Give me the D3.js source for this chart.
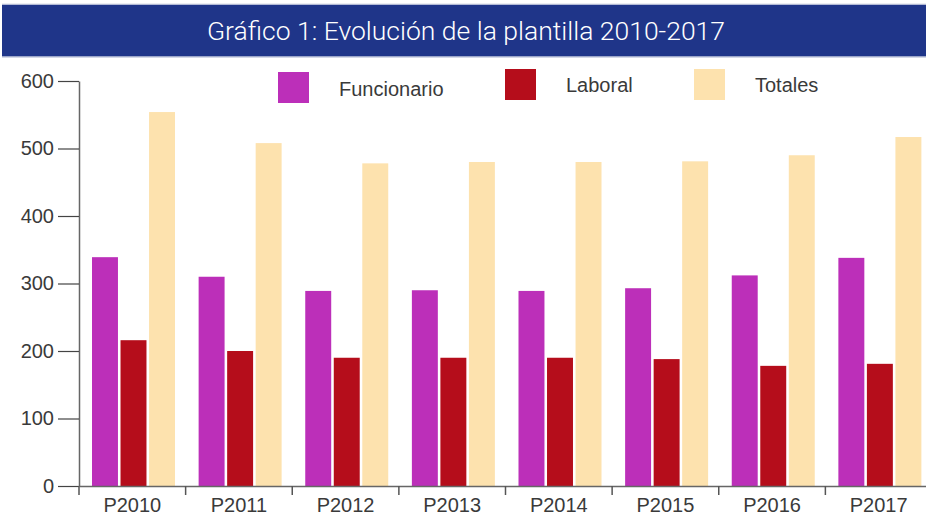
<!DOCTYPE html>
<html>
<head>
<meta charset="utf-8">
<script src="https://cdn.jsdelivr.net/npm/d3@7"></script>
<style>
body { margin: 0; background: #fff; }
svg text { font-family: "Liberation Sans", Arial, sans-serif; }
</style>
</head>
<body>
<svg id="chart" width="926" height="516"></svg>
<script>
var periods = ['P2010', 'P2011', 'P2012', 'P2013', 'P2014', 'P2015', 'P2016', 'P2017'];
var series = ['Funcionario', 'Laboral', 'Totales'];
var funcionario = [339, 310, 289, 290, 289, 293, 312, 338];
var laboral = [216, 200, 190, 190, 190, 188, 178, 181];
var totales = [554, 508, 478, 480, 480, 481, 490, 517];
var yTicks = [0, 100, 200, 300, 400, 500, 600];
var colors = ['#bc2fb9', '#b50d1b', '#fde2ae'];

var values = [funcionario, laboral, totales];

var svg = d3.select('#chart');

// title band
svg.append('rect')
	.attr('x', 2).attr('y', 4.5)
	.attr('width', 924).attr('height', 52)
	.attr('fill', '#1f3589');
svg.append('line')
	.attr('x1', 2).attr('x2', 926).attr('y1', 4).attr('y2', 4)
	.attr('stroke', '#d8dbe6');
svg.append('line')
	.attr('x1', 2).attr('x2', 926).attr('y1', 57).attr('y2', 57)
	.attr('stroke', '#aab2cf');
svg.append('text')
	.attr('x', 466).attr('y', 40)
	.attr('text-anchor', 'middle')
	.attr('fill', '#fff')
	.style('font-family', 'Roboto, sans-serif')
	.style('font-weight', 300)
	.style('font-size', '26.5px')
	.text('Gráfico 1: Evolución de la plantilla 2010-2017');

var x = d3.scaleBand()
	.domain(periods)
	.range([79, 932]);

var x1 = d3.scaleBand()
	.domain(series)
	.range([13, 96])
	.paddingInner(0.09);

var y = d3.scaleLinear()
	.domain([0, 600])
	.range([486, 81]);

var g = svg.append('g');

periods.forEach(function(p, i) {
	series.forEach(function(s, j) {
		g.append('rect')
			.attr('x', x(p) + x1(s))
			.attr('y', y(values[j][i]))
			.attr('width', x1.bandwidth())
			.attr('height', y(0) - y(values[j][i]))
			.attr('fill', colors[j]);
	});
});

// y axis
var yAxis = svg.append('g')
	.attr('transform', 'translate(79,0)')
	.call(d3.axisLeft(y).tickValues(yTicks).tickSize(21).tickSizeOuter(0).tickPadding(4));
yAxis.select('.domain').attr('stroke', '#666').attr('stroke-width', 1.5);
yAxis.selectAll('.tick line').attr('stroke', '#444').attr('stroke-width', 1.2);
yAxis.selectAll('.tick text')
	.attr('fill', '#3a3a3a')
	.style('font-size', '20px');

// x axis
var xAxis = svg.append('g')
	.attr('transform', 'translate(0,486)')
	.call(d3.axisBottom(x).tickSize(0).tickSizeOuter(0).tickPadding(12));
xAxis.select('.domain').attr('stroke', '#666').attr('stroke-width', 1.5);
xAxis.selectAll('.tick text')
	.attr('fill', '#3a3a3a')
	.style('font-size', '20px');
xAxis.selectAll('.boundary')
	.data(periods)
	.enter().append('line')
	.attr('x1', function(d) { return x(d); })
	.attr('x2', function(d) { return x(d); })
	.attr('y1', 0).attr('y2', 9)
	.attr('stroke', '#555')
	.attr('stroke-width', 1.5);

// legend
var legendPos = [
	{sx: 278, sy: 72, tx: 339, ty: 96},
	{sx: 505, sy: 69, tx: 566, ty: 92},
	{sx: 694, sy: 69, tx: 755, ty: 92}
];
series.forEach(function(s, j) {
	var lp = legendPos[j];
	svg.append('rect')
		.attr('x', lp.sx).attr('y', lp.sy)
		.attr('width', 31).attr('height', 31)
		.attr('fill', colors[j]);
	svg.append('text')
		.attr('x', lp.tx).attr('y', lp.ty)
		.attr('fill', '#3a3a3a')
		.style('font-size', '20px')
		.text(s);
});
</script>
</body>
</html>
